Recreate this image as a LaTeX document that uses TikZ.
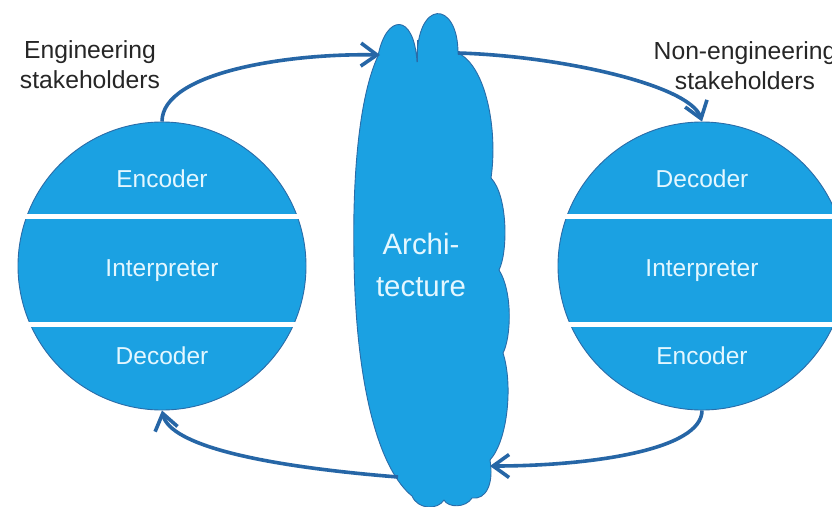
\documentclass[tikz,border=0pt]{standalone}
\usepackage{fontspec}
\setmainfont{Liberation Sans}
\usetikzlibrary{arrows.meta,calc}
\definecolor{discfill}{RGB}{27,161,226}
\definecolor{discline}{RGB}{42,108,168}
\definecolor{flowblue}{RGB}{38,102,166}
\definecolor{paletext}{RGB}{228,247,255}
\definecolor{labeltext}{RGB}{38,38,38}
\begin{document}
\begin{tikzpicture}[x=1pt,y=-1pt,
  disc/.style={circle, minimum size=288pt, inner sep=0pt, fill=discfill, draw=discline, line width=0.9pt},
  layer/.style={text=paletext, anchor=base, font=\fontsize{24.5}{28}\selectfont},
  who/.style={text=labeltext, anchor=base, font=\fontsize{24.7}{30}\selectfont},
  cloudword/.style={text=paletext, anchor=base, font=\fontsize{29.4}{34}\selectfont},
  cloudshape/.style={fill=discfill, draw=discline, line width=0.9pt, line join=round},
  flow/.style={draw=flowblue, line width=3.6pt, -{Straight Barb[length=16pt,width=23pt]}},
  divider/.style={draw=white, line width=5pt}]
\useasboundingbox (0,0) rectangle (832,506);
\clip (0,0) rectangle (832,506);
\fill[white] (0,0) rectangle (832,506);

% the two stakeholder discs
\node[disc] (L) at (162,266) {};
\node[disc] (R) at (702,266) {};

% layer dividers
\draw[divider] ($(L.center)+(-139,-50)$) -- ($(L.center)+(139,-50)$);
\draw[divider] ($(L.center)+(-135,58)$) -- ($(L.center)+(135,58)$);
\draw[divider] ($(R.center)+(-139,-50)$) -- ($(R.center)+(139,-50)$);
\draw[divider] ($(R.center)+(-135,58)$) -- ($(R.center)+(135,58)$);

% layer names
\node[layer] (l1) at (162,187) {Encoder};
\node[layer] (l2) at (162,276) {Interpreter};
\node[layer] (l3) at (162,364) {Decoder};
\node[layer] (r1) at (702,187) {Decoder};
\node[layer] (r2) at (702,276) {Interpreter};
\node[layer] (r3) at (702,364) {Encoder};

% stakeholder labels
\node[who] (eng1) at (90,58) {Engineering};
\node[who] (eng2) at (90,88) {stakeholders};
\node[who] (non1) at (745,59) {Non-engineering};
\node[who] (non2) at (745,89) {stakeholders};

% architecture cloud
\path[cloudshape] (378,56)
  .. controls (386,14) and (414,12) .. (417,62)
  .. controls (416,-2) and (458,0) .. (458,53)
  .. controls (486,66) and (498,130) .. (491,178)
  .. controls (508,196) and (508,252) .. (499,270)
  .. controls (513,292) and (511,338) .. (503,353)
  .. controls (513,384) and (508,440) .. (490,460)
  .. controls (494,484) and (486,500) .. (472,498)
  .. controls (466,508) and (448,508) .. (444,500)
  .. controls (438,510) and (418,510) .. (412,496)
  .. controls (380,470) and (356,390) .. (354,260)
  .. controls (352,160) and (362,90) .. (378,56) -- cycle;
\draw[discline, line width=0.9pt] (417,62) -- (417,40);
\node[cloudword] (arch1) at (421,254) {Archi-};
\node[cloudword] (arch2) at (421,296) {tecture};

% ports on the cloud outline
\coordinate (inTop) at (380,55);
\coordinate (outTop) at (458,53);
\coordinate (inBot) at (490,466);
\coordinate (outBot) at (398,477);

% communication loop
\draw[flow] (L.north) .. controls (162,72) and (290,53) .. (inTop);
\draw[flow] (outTop) .. controls (560,56) and (690,85) .. (R.north);
\draw[flow] (R.south) .. controls (702,450) and (590,466) .. (inBot);
\draw[flow] (outBot) .. controls (260,466) and (170,445) .. (L.south);
\end{tikzpicture}
\end{document}
